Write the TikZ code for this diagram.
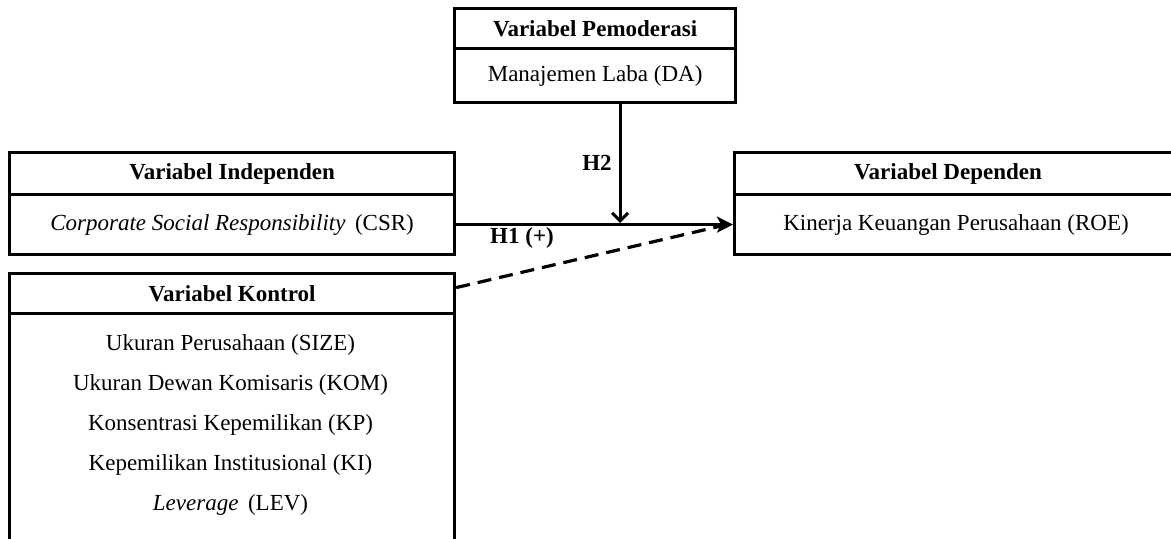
\documentclass[tikz,border=0pt]{standalone}
\usepackage{fontspec}
\setmainfont{Liberation Serif}
\usetikzlibrary{arrows.meta}
\begin{document}
\begin{tikzpicture}[x=0.5pt,y=-0.5pt,
  box/.style={draw,line width=1.6pt,inner sep=0pt,anchor=north west,font=\fontsize{11.5}{14}\selectfont},
  hd/.style={box,font=\fontsize{11.5}{14}\selectfont\bfseries},
  txt/.style={inner sep=0pt,text height=8pt,text depth=2.5pt,font=\fontsize{11.5}{14}\selectfont},
  lbl/.style={inner sep=0pt,text height=8pt,text depth=2.5pt,font=\fontsize{11.5}{14}\selectfont\bfseries},
  link/.style={line width=1.5pt}]
\clip (0,0) rectangle (1171,539);
% Pemoderasi
\node[hd,minimum width=140.5pt,minimum height=20pt] (modT) at (453,7) {Variabel Pemoderasi};
\node[box,minimum width=140.5pt,minimum height=27pt] (modB) at (453,47) {Manajemen Laba (DA)};
% Independen
\node[hd,minimum width=222.5pt,minimum height=21pt] (indT) at (8,151) {Variabel Independen};
\node[box,minimum width=222.5pt,minimum height=30pt] (indB) at (8,193) {\textit{Corporate Social Responsibility}\ \,(CSR)};
% Dependen
\node[box,minimum width=230pt,minimum height=21pt] (depT) at (733,151) {};
\node[box,minimum width=230pt,minimum height=30pt] (depB) at (733,193) {};
\node[lbl] (depTt) at (948,174) {Variabel Dependen};
\node[txt] (depBt) at (956,225) {Kinerja Keuangan Perusahaan (ROE)};
% Kontrol
\node[hd,minimum width=222.5pt,minimum height=20pt] (konT) at (8,272) {Variabel Kontrol};
\node[box,minimum width=222.5pt,minimum height=125pt] (konB) at (8,312) {};
\node[txt] (k1) at (230.5,345) {Ukuran Perusahaan (SIZE)};
\node[txt] (k2) at (230.5,385) {Ukuran Dewan Komisaris (KOM)};
\node[txt] (k3) at (230.5,425) {Konsentrasi Kepemilikan (KP)};
\node[txt] (k4) at (230.5,465) {Kepemilikan Institusional (KI)};
\node[txt] (k5) at (230.5,505) {\textit{Leverage}\ \,(LEV)};
% connectors
\coordinate (j) at (620,223);
\draw[link,-{Stealth[length=8pt,width=8pt,inset=2pt]}] (indB.east) -- (depB.west);
\draw[link,-{Straight Barb[length=4pt,width=8pt,line width=1.5pt]}] (j |- modB.south) -- (j);
\draw[line width=1.6pt,dash pattern=on 7pt off 4pt] ([yshift=3pt]konT.east) -- ([xshift=-3pt]depB.west);
% labels
\node[lbl] (h2) at (597,165) {H2};
\node[lbl] (h1) at (522,238) {H1 (+)};
\end{tikzpicture}
\end{document}
